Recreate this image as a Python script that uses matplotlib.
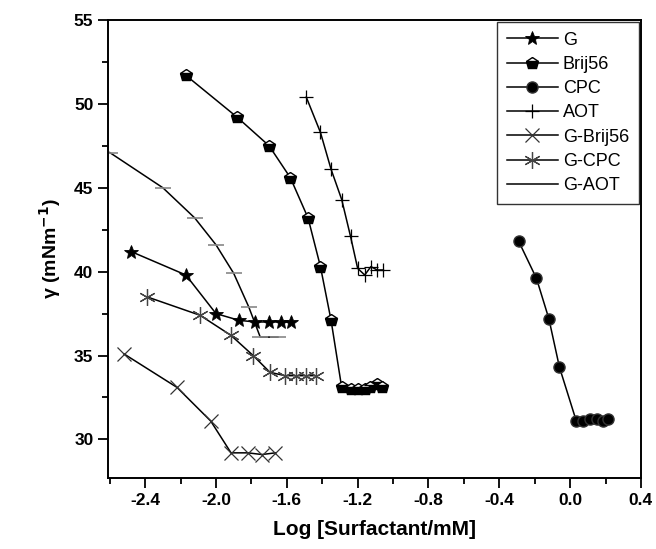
import matplotlib
matplotlib.use("Agg")
import matplotlib.pyplot as plt
from matplotlib.ticker import MultipleLocator

plt.rcParams['font.family'] = ['Liberation Sans', 'DejaVu Sans']
plt.rcParams['font.weight'] = 'bold'

# -----------------------------
# Data
# -----------------------------
g_x = [-2.48, -2.17, -2.00, -1.87, -1.78, -1.70, -1.63, -1.575]
g_y = [41.2, 39.8, 37.5, 37.1, 37.0, 37.0, 37.0, 37.0]

brij_x = [-2.17, -1.88, -1.70, -1.58, -1.48, -1.41, -1.35, -1.29, -1.24, -1.20, -1.16, -1.13, -1.09, -1.06]
brij_y = [51.7, 49.2, 47.5, 45.6, 43.2, 40.3, 37.1, 33.1, 33.0, 33.0, 33.0, 33.1, 33.3, 33.1]

cpc_x = [-0.29, -0.19, -0.12, -0.06, 0.035, 0.075, 0.11, 0.15, 0.185, 0.215]
cpc_y = [41.8, 39.6, 37.2, 34.3, 31.1, 31.1, 31.2, 31.2, 31.1, 31.2]

aot_x = [-1.49, -1.41, -1.35, -1.29, -1.24, -1.20, -1.16, -1.125, -1.09, -1.055]
aot_y = [50.4, 48.3, 46.1, 44.3, 42.1, 40.2, 39.8, 40.3, 40.1, 40.1]

gbrij_x = [-2.52, -2.22, -2.03, -1.915, -1.82, -1.74, -1.665]
gbrij_y = [35.1, 33.1, 31.1, 29.2, 29.2, 29.1, 29.2]

gcpc_x = [-2.39, -2.09, -1.915, -1.79, -1.695, -1.61, -1.55, -1.49, -1.435]
gcpc_y = [38.5, 37.4, 36.2, 35.0, 34.0, 33.8, 33.8, 33.8, 33.8]

gaot_x = [-2.60, -2.30, -2.12, -2.00, -1.90, -1.815, -1.75, -1.65]
gaot_y = [47.1, 45.0, 43.2, 41.6, 39.9, 37.9, 36.1, 36.1]

# -----------------------------
# Plot
# -----------------------------
fig = plt.figure(figsize=(6.56, 5.49), dpi=100)
ax = fig.add_axes([0.1646, 0.1293, 0.8124, 0.8343])

lw = 1.1
ax.plot(g_x, g_y, color='black', lw=lw, marker='*', ms=10,
        mfc='black', mec='black', mew=0.6, label='G')
ax.plot(brij_x, brij_y, color='black', lw=lw, marker='p', ms=9,
        fillstyle='bottom', mfc='black', mfcalt='white', mec='black',
        mew=1.0, label='Brij56')
ax.plot(cpc_x, cpc_y, color='black', lw=lw, marker='o', ms=8,
        mfc='black', mec='#333333', label='CPC')
ax.plot(aot_x, aot_y, color='black', lw=lw, marker='+', ms=10,
        mew=0.9, label='AOT')
ax.plot(gbrij_x, gbrij_y, color='black', lw=lw, marker='x', ms=10,
        mec='#333333', mew=0.9, label='G-Brij56')
ax.plot(gcpc_x, gcpc_y, color='black', lw=lw, marker=(6, 2, 0), ms=12,
        mec='#444444', mew=0.9, label='G-CPC')
ax.plot(gaot_x, gaot_y, color='black', lw=lw, marker='_', ms=11,
        mec='#888888', mew=1.2, label='G-AOT')

ax.set_xlim(-2.61, 0.4)
ax.set_ylim(27.7, 55)

ax.xaxis.set_major_locator(MultipleLocator(0.4))
ax.xaxis.set_minor_locator(MultipleLocator(0.2))
ax.yaxis.set_major_locator(MultipleLocator(5))
ax.yaxis.set_minor_locator(MultipleLocator(2.5))
ax.set_xticks([-2.4, -2.0, -1.6, -1.2, -0.8, -0.4, 0.0, 0.4])
ax.set_xticklabels(['-2.4', '-2.0', '-1.6', '-1.2', '-0.8', '-0.4', '0.0', '0.4'])

ax.tick_params(axis='both', which='both', direction='out', top=False, right=False,
               width=1.3, labelsize=12.5)
ax.tick_params(axis='both', which='major', length=7)
ax.tick_params(axis='both', which='minor', length=4)
for s in ax.spines.values():
    s.set_linewidth(1.4)

ax.set_xlabel('Log [Surfactant/mM]', fontsize=15, fontweight='bold', labelpad=9)
ax.set_ylabel('γ (mNm$^{\\mathbf{-1}}$)', fontsize=14, fontweight='bold', labelpad=8)

leg = ax.legend(loc='upper right', borderaxespad=0.1, fancybox=False,
                edgecolor='black', fontsize=13, labelspacing=0.4,
                handlelength=2.8, handletextpad=0.3, borderpad=0.55)
leg.get_frame().set_linewidth(1.0)
for t in leg.get_texts():
    t.set_fontweight('normal')
# G-AOT is shown as a plain line in the legend
leg.legend_handles[-1].set_marker('')

fig.savefig('out.png', dpi=100)
